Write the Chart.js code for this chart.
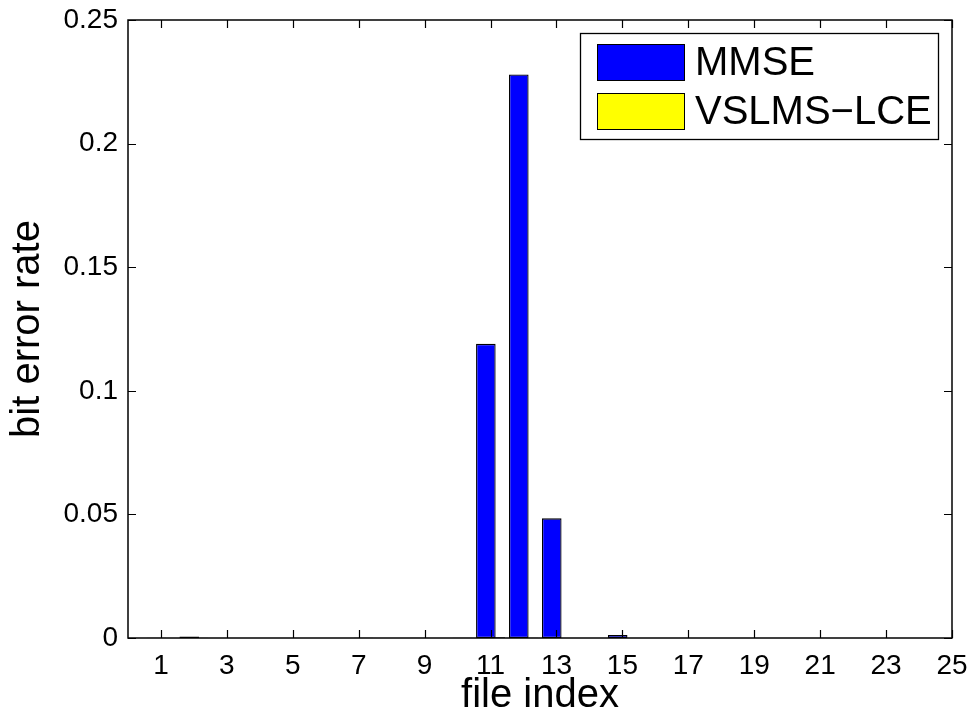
<!DOCTYPE html>
<html>
<head>
<meta charset="utf-8">
<script src="https://cdn.jsdelivr.net/npm/chart.js@4.4.1/dist/chart.umd.min.js"></script>
<style>
  html, body { margin: 0; padding: 0; background: #ffffff; }
  #wrap { width: 971px; height: 723px; position: relative; }
</style>
</head>
<body>
<div id="wrap"><canvas id="c" width="971" height="723"></canvas></div>
<script>
// ---- data ----
const fileIndex = [1,2,3,4,5,6,7,8,9,10,11,12,13,14,15,16,17,18,19,20,21,22,23,24,25];
const mmse      = [0.0001,0.0006,0,0,0,0,0,0,0.0001,0,0.119,0.228,0.0484,0,0.0012,0,0,0,0,0,0,0,0,0,0];
const vslmsLce  = [0,0.0001,0,0,0,0,0.0001,0,0,0.0001,0.0003,0.0001,0,0,0,0,0,0,0,0,0,0,0,0,0];
const seriesNames = ['MMSE', 'VSLMS\u2212LCE'];
const xTickValues = [1,3,5,7,9,11,13,15,17,19,21,23,25];
const yTickValues = [0,0.05,0.1,0.15,0.2,0.25];
const yTickLabels = ['0','0.05','0.1','0.15','0.2','0.25'];
const xTitle = 'file index';
const yTitle = 'bit error rate';

const FONT = "'Liberation Sans', Arial, Helvetica, sans-serif";

const framePlugin = {
  id: 'matlabFrame',
  afterDraw(chart) {
    const ctx = chart.ctx;
    const a = chart.chartArea;
    const xs = chart.scales.x, ys = chart.scales.y;
    const tl = 8;
    ctx.save();
    ctx.strokeStyle = '#000';
    ctx.lineWidth = 1.5;
    ctx.strokeRect(a.left, a.top, a.right - a.left, a.bottom - a.top);
    ctx.lineWidth = 1.2;
    ctx.beginPath();
    xTickValues.forEach(v => {
      const px = Math.round(xs.getPixelForValue(v)) + 0.5;
      ctx.moveTo(px, a.bottom); ctx.lineTo(px, a.bottom - tl);
      ctx.moveTo(px, a.top); ctx.lineTo(px, a.top + tl);
    });
    yTickValues.forEach(v => {
      const py = Math.round(ys.getPixelForValue(v)) + 0.5;
      ctx.moveTo(a.left, py); ctx.lineTo(a.left + tl, py);
      ctx.moveTo(a.right, py); ctx.lineTo(a.right - tl, py);
    });
    ctx.stroke();

    // legend inside the axes, top right
    const bx0 = a.right - 372, by0 = a.top + 13, bw = 358, bh = 106;
    ctx.fillStyle = '#fff';
    ctx.fillRect(bx0, by0, bw, bh);
    ctx.lineWidth = 1.3;
    ctx.strokeRect(bx0 + 0.5, by0 + 0.5, bw, bh);
    ctx.font = '40px ' + FONT;
    ctx.textAlign = 'left';
    ctx.textBaseline = 'alphabetic';
    chart.data.datasets.forEach((ds, i) => {
      const sy = by0 + 11 + i * 49;
      ctx.fillStyle = ds.backgroundColor;
      ctx.fillRect(bx0 + 17, sy, 87, 36);
      ctx.lineWidth = 1;
      ctx.strokeStyle = '#000';
      ctx.strokeRect(bx0 + 17.5, sy + 0.5, 87, 36);
      ctx.fillStyle = '#000';
      ctx.fillText(ds.label, bx0 + 115, sy + 31);
    });
    ctx.restore();
  }
};

new Chart(document.getElementById('c'), {
  type: 'bar',
  data: {
    datasets: [
      {
        label: seriesNames[0],
        data: fileIndex.map((f, i) => ({ x: f, y: mmse[i] })),
        backgroundColor: '#0000ff',
        borderColor: '#000000',
        borderWidth: 1.3,
        borderSkipped: false
      },
      {
        label: seriesNames[1],
        data: fileIndex.map((f, i) => ({ x: f, y: vslmsLce[i] })),
        backgroundColor: '#ffff00',
        borderColor: '#000000',
        borderWidth: 1.3,
        borderSkipped: false
      }
    ]
  },
  options: {
    responsive: false,
    animation: false,
    devicePixelRatio: 1,
    categoryPercentage: 0.5714,
    barPercentage: 2.08,
    layout: { autoPadding: false, padding: { top: 20, right: 19, left: 0, bottom: 0 } },
    plugins: { legend: { display: false }, tooltip: { enabled: false }, title: { display: false } },
    scales: {
      x: {
        type: 'linear',
        min: 0, max: 25,
        offset: false,
        grid: { display: false, drawTicks: false },
        border: { display: false },
        afterBuildTicks: s => { s.ticks = xTickValues.map(v => ({ value: v })); },
        afterFit: s => { s.height = 85; s.paddingLeft = 0; s.paddingRight = 0; },
        ticks: { color: '#000', font: { family: FONT, size: 28 }, padding: 11, maxRotation: 0, autoSkip: false,
                 callback: v => String(v) },
        title: { display: true, text: xTitle, color: '#000', font: { family: FONT, size: 40 }, padding: { top: 0, bottom: 3 } }
      },
      y: {
        min: 0, max: 0.25,
        grid: { display: false, drawTicks: false },
        border: { display: false },
        afterBuildTicks: s => { s.ticks = yTickValues.map(v => ({ value: v })); },
        afterFit: s => { s.width = 128; s.paddingTop = 0; s.paddingBottom = 0; },
        ticks: { color: '#000', font: { family: FONT, size: 28 }, padding: 10,
                 callback: (v) => yTickLabels[yTickValues.findIndex(t => Math.abs(t - v) < 1e-9)] },
        title: { display: true, text: yTitle, color: '#000', font: { family: FONT, size: 40 }, padding: { top: 4, bottom: 0 } }
      }
    }
  },
  plugins: [framePlugin]
});
</script>
</body>
</html>
